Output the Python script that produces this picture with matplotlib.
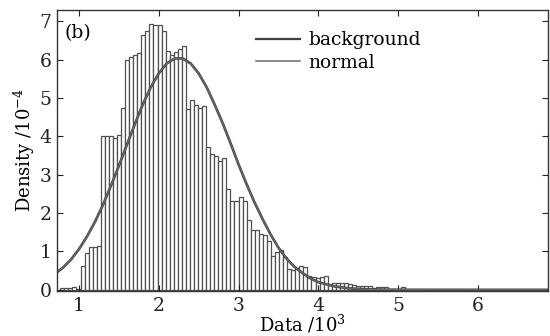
import numpy as np
import matplotlib
matplotlib.use("Agg")
import matplotlib.pyplot as plt

plt.rcParams['font.family'] = ['DejaVu Serif']
plt.rcParams['mathtext.fontset'] = 'dejavuserif'

# histogram: uniform bins, heights (density / 1e-4)
bin_left = 0.765
bin_width = 0.0508
heights = [0.04, 0.04, 0.04, 0.08, 0.03,
           0.61, 0.95, 1.11, 1.12, 1.14,
           4.02, 4.02, 4.02, 3.95, 4.04, 4.75,
           6.00, 6.07, 6.13, 6.16, 6.65, 6.74, 6.93, 6.90, 6.90, 6.75,
           6.22, 6.13, 6.20, 6.27, 6.35,
           4.72, 4.94, 4.82, 4.75, 4.80,
           3.71, 3.54, 3.48, 3.37, 3.43,
           2.62, 2.31, 2.32, 2.42, 2.32,
           1.81, 1.55, 1.55, 1.45, 1.43, 1.27,
           0.88, 0.99, 1.03, 0.85,
           0.54, 0.52, 0.56, 0.62, 0.59,
           0.35, 0.33, 0.30, 0.33, 0.35,
           0.15, 0.17, 0.19, 0.19, 0.19,
           0.15, 0.12, 0.10, 0.10, 0.10, 0.09, 0.06, 0.08, 0.08, 0.08,
           0.03, 0.02, 0.02, 0.08]

# fitted curve
curve_x = [0.72, 0.8, 0.9, 1.0, 1.1, 1.2, 1.3, 1.4, 1.5, 1.6, 1.7, 1.8, 1.9,
           2.0, 2.1, 2.2, 2.3, 2.4, 2.5, 2.6, 2.7, 2.8, 2.9, 3.0, 3.1, 3.2,
           3.3, 3.4, 3.5, 3.6, 3.7, 3.8, 3.9, 4.0, 4.2, 4.4, 4.6, 4.8, 5.0, 6.88]
curve_y = [0.45, 0.58, 0.79, 1.06, 1.39, 1.77, 2.21, 2.71, 3.23, 3.78, 4.32,
           4.83, 5.28, 5.64, 5.90, 6.03, 6.03, 5.90, 5.64, 5.28, 4.83, 4.35,
           3.82, 3.27, 2.76, 2.28, 1.85, 1.45, 1.10, 0.82, 0.60, 0.44, 0.30,
           0.20, 0.09, 0.035, 0.013, 0.004, 0.001, 0.0]

lefts = bin_left + bin_width * np.arange(len(heights))

fig = plt.figure(figsize=(5.5, 3.36), dpi=100)
ax = fig.add_axes([0.1036, 0.134, 0.8924, 0.836])

ax.bar(lefts, heights, width=bin_width, align='edge', color='white',
       edgecolor='#505050', linewidth=0.9)
ax.plot(curve_x, curve_y, color='#404040', lw=1.9, label='background')
ax.plot(curve_x, curve_y, color='#6a6a6a', lw=0.9, label='normal')

ax.set_xlim(0.724, 6.877)
ax.set_ylim(-0.03, 7.29)
ax.set_xticks([1, 2, 3, 4, 5, 6])
ax.set_yticks(range(8))
ax.tick_params(direction='in', top=True, right=True, length=4, width=0.8,
               labelsize=13.5, colors='#222222', pad=4)
for s in ax.spines.values():
    s.set_color('#333333')
    s.set_linewidth(1.0)

ax.set_xlabel('Data /10$^{3}$', fontsize=13, labelpad=-1)
ax.set_ylabel('Density /10$^{-4}$', fontsize=13, labelpad=2)

ax.text(0.016, 0.95, '(b)', transform=ax.transAxes, fontsize=13.5,
        va='top', ha='left')
leg = ax.legend(loc='upper left', bbox_to_anchor=(0.372, 0.985), frameon=False,
                fontsize=13.5, handlelength=2.3, handletextpad=0.45,
                labelspacing=0.25)
leg.get_lines()[0].set_linewidth(1.6)
leg.get_lines()[1].set_linewidth(1.1)

fig.savefig('out.png', dpi=100)
